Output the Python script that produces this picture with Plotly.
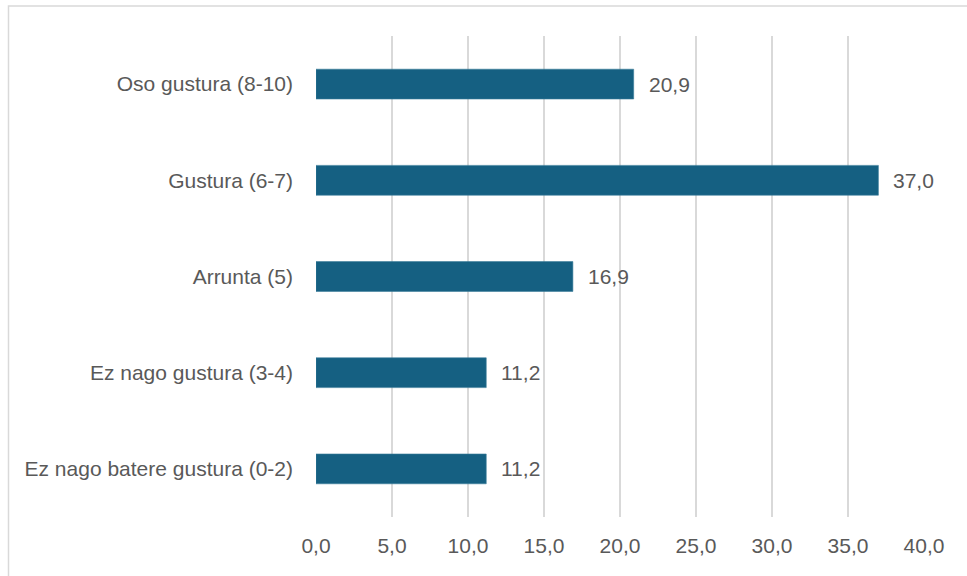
import plotly.graph_objects as go

categories = [
    "Ez nago batere gustura (0-2)",
    "Ez nago gustura (3-4)",
    "Arrunta (5)",
    "Gustura (6-7)",
    "Oso gustura (8-10)",
]
values = [11.2, 11.2, 16.9, 37.0, 20.9]
tick_vals = [0, 5, 10, 15, 20, 25, 30, 35, 40]
tick_text = ["0,0", "5,0", "10,0", "15,0", "20,0", "25,0", "30,0", "35,0", "40,0"]

BAR = "#156082"
TEXT = "#595959"
GRID = "#d9d9d9"
FONT = "Liberation Sans, Arial, sans-serif"

W, H = 967, 576
L, R, T, B = 316, 43, 36, 59
pw, ph = W - L - R, H - T - B

fig = go.Figure(
    go.Bar(
        x=values,
        y=categories,
        orientation="h",
        width=0.31,
        marker=dict(color=BAR, line=dict(color="#3a7c9a", width=0.6)),
        hoverinfo="x+y",
    )
)

# value labels just past the bar ends
for v, c in zip(values, categories):
    fig.add_annotation(
        x=v, y=c, xref="x", yref="y",
        text=f"{v:.1f}".replace(".", ","),
        showarrow=False, xanchor="left", xshift=13,
        font=dict(family=FONT, size=21, color=TEXT),
    )

# chart frame
fig.add_shape(
    type="rect", xref="paper", yref="paper",
    x0=(8.5 - L) / pw, x1=1 + 80 / pw,
    y0=-(B + 40) / ph, y1=1 + (T - 6) / ph,
    line=dict(color="#d9d9d9", width=1.5),
    fillcolor="rgba(0,0,0,0)", layer="below",
)

fig.update_layout(
    width=W, height=H,
    margin=dict(l=L, r=R, t=T, b=B),
    paper_bgcolor="white", plot_bgcolor="white",
    showlegend=False,
    bargap=0.69,
    xaxis=dict(
        range=[0, 40], tickvals=tick_vals, ticktext=tick_text,
        showgrid=True, gridcolor=GRID, gridwidth=1.5,
        zeroline=False, showline=False, ticks="",
        tickfont=dict(family=FONT, size=21, color=TEXT),
        ticklabelstandoff=14,
    ),
    yaxis=dict(
        categoryorder="array", categoryarray=categories,
        showgrid=False, zeroline=False, showline=False, ticks="",
        tickfont=dict(family=FONT, size=21, color=TEXT),
        ticklabelstandoff=22,
    ),
)

fig.write_html("out.html")
